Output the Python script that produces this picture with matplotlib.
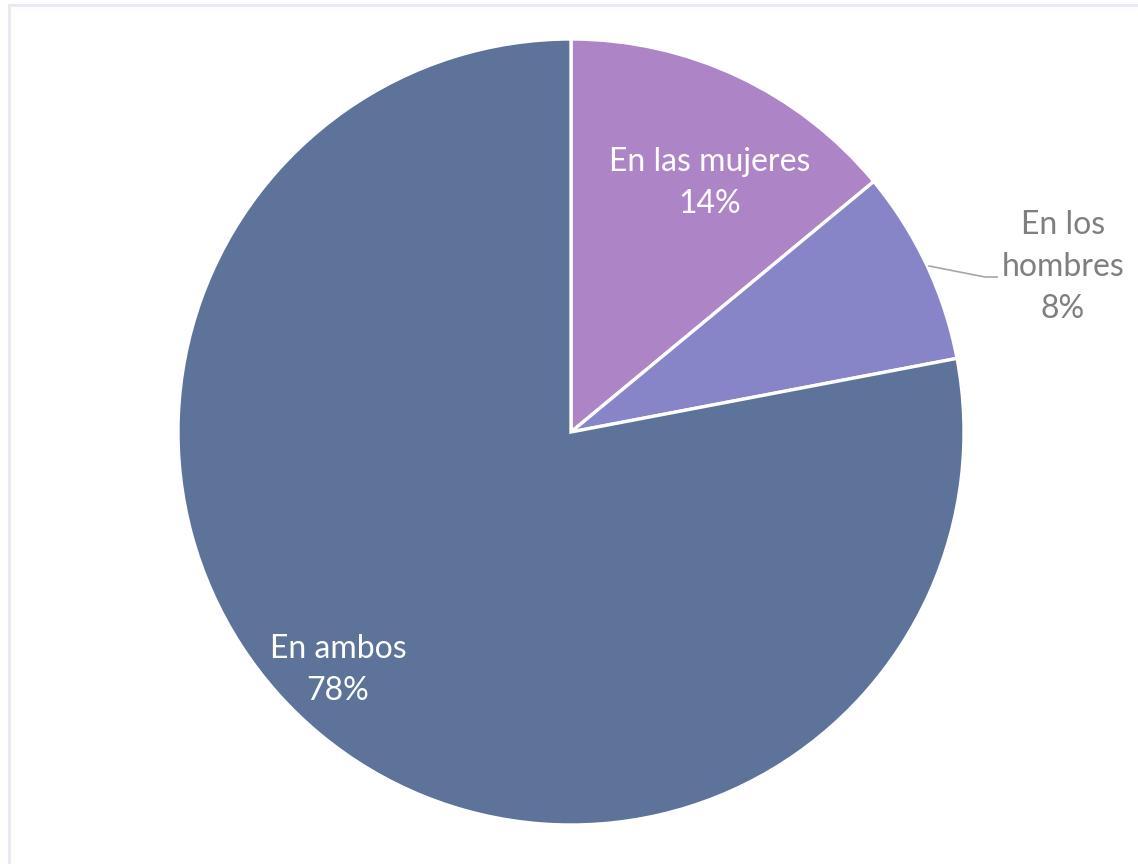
import matplotlib
matplotlib.use("Agg")
import matplotlib.pyplot as plt
from matplotlib.patches import Rectangle

categories = ["En las mujeres", "En los hombres", "En ambos"]
values = [14, 8, 78]
colors = ["#AD84C6", "#8784C7", "#5E7399"]

W, H = 1138, 864
fig = plt.figure(figsize=(W / 100, H / 100), dpi=100)
ax = fig.add_axes([0, 0, 1, 1])

cx, cy, r = 571, H - 432, 393
wedges, _ = ax.pie(values, colors=colors, startangle=90, counterclock=False,
                   center=(cx, cy), radius=r, frame=True,
                   wedgeprops=dict(edgecolor="white", linewidth=2.4))
ax.set_xlim(0, W)
ax.set_ylim(0, H)
ax.set_aspect("equal")
ax.axis("off")

# light frame
ax.add_patch(Rectangle((9, -10), W + 20, H - 5 + 10, fill=False,
                       edgecolor="#EEE6F4", linewidth=2.2))

font = "Lato"
fs = 23
ls = 1.5
ax.text(710, H - 183, f"{categories[0]}\n{values[0]}%", ha="center", va="center",
        color="white", fontsize=fs, family=font, linespacing=ls)
ax.text(338, H - 670, f"{categories[2]}\n{values[2]}%", ha="center", va="center",
        color="white", fontsize=fs, family=font, linespacing=ls)
ax.text(1063, H - 267, "En los\nhombres\n" + f"{values[1]}%", ha="center", va="center",
        color="#7F7F7F", fontsize=fs, family=font, linespacing=ls)
ax.plot([929, 985, 997], [H - 266, H - 277, H - 277], color="#A6A6A6", lw=1.2)

fig.savefig("out.png", dpi=100)
